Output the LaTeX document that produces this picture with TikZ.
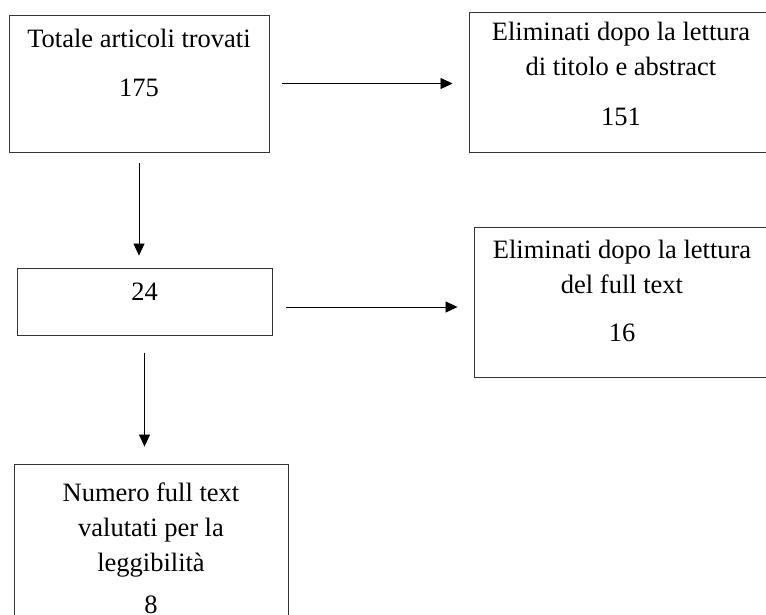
\documentclass[tikz,border=0pt]{standalone}
\usepackage{fontspec}
\setmainfont{Liberation Serif}
\usetikzlibrary{positioning,arrows.meta}
\tikzset{
	box/.style={draw=black!80, line width=0.9pt, inner sep=0pt},
	txt/.style={inner sep=0pt, align=center, font=\fontsize{26.5}{35}\selectfont},
	arr/.style={-{Triangle[length=12pt,width=11pt]}, line width=0.8pt}
}

\begin{document}
\begin{tikzpicture}[x=1pt,y=-1pt]
		%%%%% START %%%%%
		\useasboundingbox (0,0) rectangle (766,614);
		\clip (0,0) rectangle (766,614);
		
		\node[box, minimum width=260pt, minimum height=137pt] (tot) at (139,83.5) {};
		\node[txt, below=14pt of tot.north] (tottxt) {Totale articoli trovati\\[14pt]175};
		
		\node[box, minimum width=304pt, minimum height=140pt] (elim1) at (621,82) {};
		\node[txt, below=10pt of elim1.north] (elim1txt) {Eliminati dopo la lettura\\di titolo e abstract\\[15pt]151};
		
		\node[box, minimum width=255pt, minimum height=67pt] (sel) at (144.5,301.5) {};
		\node[txt, below=15pt of sel.north] (seltxt) {24};
		
		\node[box, minimum width=296pt, minimum height=150pt] (elim2) at (622,302) {};
		\node[txt, below=13pt of elim2.north] (elim2txt) {Eliminati dopo la lettura\\del full text\\[13pt]16};
		
		\node[box, minimum width=274pt, minimum height=186pt] (valut) at (151,557) {};
		\node[txt, below=19pt of valut.north] (valuttxt) {Numero full text\\valutati per la\\leggibilità\\[7pt]8};
		
		% frecce
		\draw[arr, shorten <=13pt, shorten >=16pt] (tot.east) -- (tot.east -| elim1.west);
		\draw[arr, shorten <=11pt, shorten >=12pt] (tot.south) -- (tot.south |- sel.north);
		\draw[arr, shorten <=14pt, shorten >=16pt] ([yshift=-5.5pt]sel.east) -- ([yshift=-5.5pt]sel.east -| elim2.west);
		\draw[arr, shorten <=18pt, shorten >=17pt] (sel.south) -- (sel.south |- valut.north);
		%%%%% END %%%%%
\end{tikzpicture}
\end{document}
